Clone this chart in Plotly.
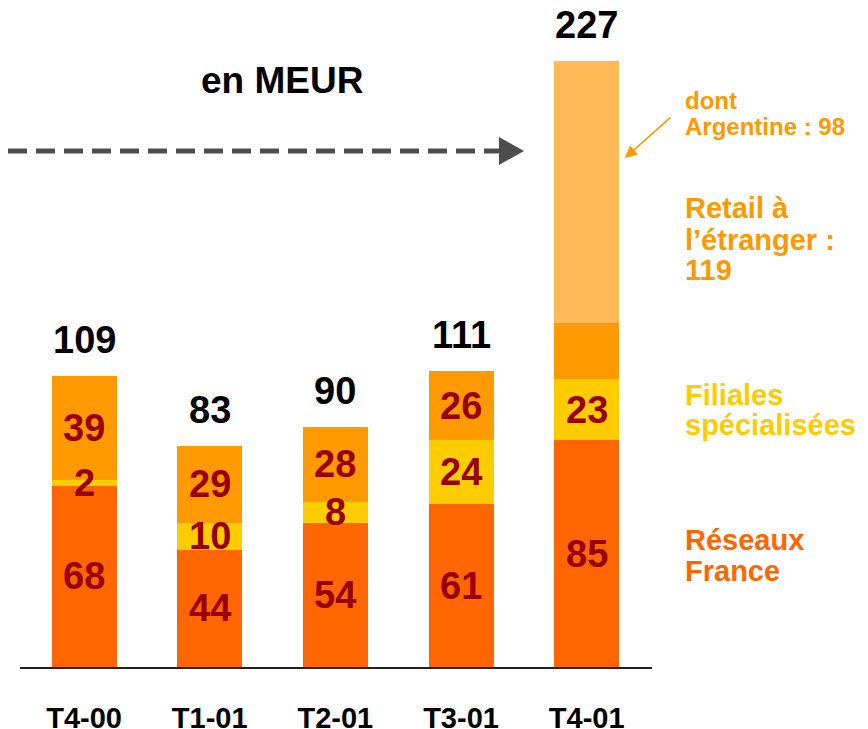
import plotly.graph_objects as go

quarters = ["T4-00", "T1-01", "T2-01", "T3-01", "T4-01"]
reseaux_france = [68, 44, 54, 61, 85]
filiales = [2, 10, 8, 24, 23]
retail_etranger = [39, 29, 28, 26, 119]
argentine = [0, 0, 0, 0, 98]
totals = [109, 83, 90, 111, 227]

retail_hors_arg = [r - a for r, a in zip(retail_etranger, argentine)]

C_RESEAUX = "#FF6600"
C_FILIALES = "#FFCC00"
C_RETAIL = "#FF9900"
C_ARG = "#FFB957"
C_LABEL = "#990000"
FONT = "Liberation Sans, Arial, sans-serif"

W, H = 868, 729
L, R, T, B = 20, 216, 0, 62
PW, PH = W - L - R, H - T - B


def px(x):
    return (x - L) / PW


def py(y):
    return (H - B - y) / PH


fig = go.Figure()
for name, vals, col in [
    ("Réseaux France", reseaux_france, C_RESEAUX),
    ("Filiales spécialisées", filiales, C_FILIALES),
    ("Retail à l'étranger", retail_hors_arg, C_RETAIL),
    ("dont Argentine", argentine, C_ARG),
]:
    fig.add_trace(go.Bar(x=quarters, y=vals, name=name, marker_color=col,
                         marker_line_width=0, width=0.517, showlegend=False,
                         hoverinfo="y+name"))

ann = []
# valeurs dans les barres + totaux
for i, q in enumerate(quarters):
    base = 0
    segs = [reseaux_france[i], filiales[i]]
    if argentine[i] == 0:
        segs.append(retail_etranger[i])
    for v in segs:
        ann.append(dict(x=q, y=base + v / 2, text="<b>%d</b>" % v, showarrow=False,
                        yanchor="middle",
                        font=dict(size=38, color=C_LABEL, family=FONT)))
        base += v
    ann.append(dict(x=q, y=totals[i], text="<b>%d</b>" % totals[i], showarrow=False,
                    yanchor="middle", yshift=36,
                    font=dict(size=38, color="black", family=FONT)))

# libellés à droite
side = [
    ("dont", 100, 24, C_RETAIL),
    ("Argentine : 98", 126, 24, C_RETAIL),
    ("Retail à", 208, 29, C_RETAIL),
    ("l’étranger :", 240, 29, C_RETAIL),
    ("119", 270, 29, C_RETAIL),
    ("Filiales", 395, 29, C_FILIALES),
    ("spécialisées", 425, 29, C_FILIALES),
    ("Réseaux", 540, 29, C_RESEAUX),
    ("France", 571, 29, C_RESEAUX),
]
for txt, y, s, c in side:
    ann.append(dict(xref="paper", yref="paper", x=px(683), y=py(y), text="<b>%s</b>" % txt,
                    showarrow=False, xanchor="left", yanchor="middle",
                    font=dict(size=s, color=c, family=FONT)))

ann.append(dict(xref="paper", yref="paper", x=px(282), y=py(80), text="<b>en MEUR</b>",
                showarrow=False, xanchor="center", yanchor="middle",
                font=dict(size=37, color="black", family=FONT)))

# flèche orange vers la part Argentine
ann.append(dict(xref="paper", yref="paper", x=px(625), y=py(158), ax=47, ay=-42,
                text="", showarrow=True, arrowhead=2, arrowsize=1.6, arrowwidth=1.5,
                arrowcolor=C_RETAIL))

shapes = [
    dict(type="line", xref="paper", yref="paper", x0=px(8), x1=px(500), y0=py(151), y1=py(151),
         line=dict(color="#4D4D4D", width=5, dash="19px,9px")),
    dict(type="path", xref="paper", yref="paper",
         path="M %f,%f L %f,%f L %f,%f Z" % (px(499), py(137), px(524), py(151), px(499), py(165)),
         fillcolor="#4D4D4D", line=dict(width=0)),
]

fig.update_layout(
    width=W, height=H,
    margin=dict(l=L, r=R, t=T, b=B),
    barmode="stack",
    plot_bgcolor="white", paper_bgcolor="white",
    annotations=ann, shapes=shapes,
    xaxis=dict(range=[-0.51, 4.52], showline=True, linecolor="#222222", linewidth=2,
               ticks="", showgrid=False, zeroline=False, ticklabelstandoff=24,
               automargin=False,
               tickfont=dict(size=29, color="black", family=FONT),
               tickvals=quarters, ticktext=["<b>%s</b>" % q for q in quarters]),
    yaxis=dict(range=[0, 250], visible=False, automargin=False),
)

fig.write_html("out.html", config={"displayModeBar": False},
               post_script="document.body.style.margin='0';")
